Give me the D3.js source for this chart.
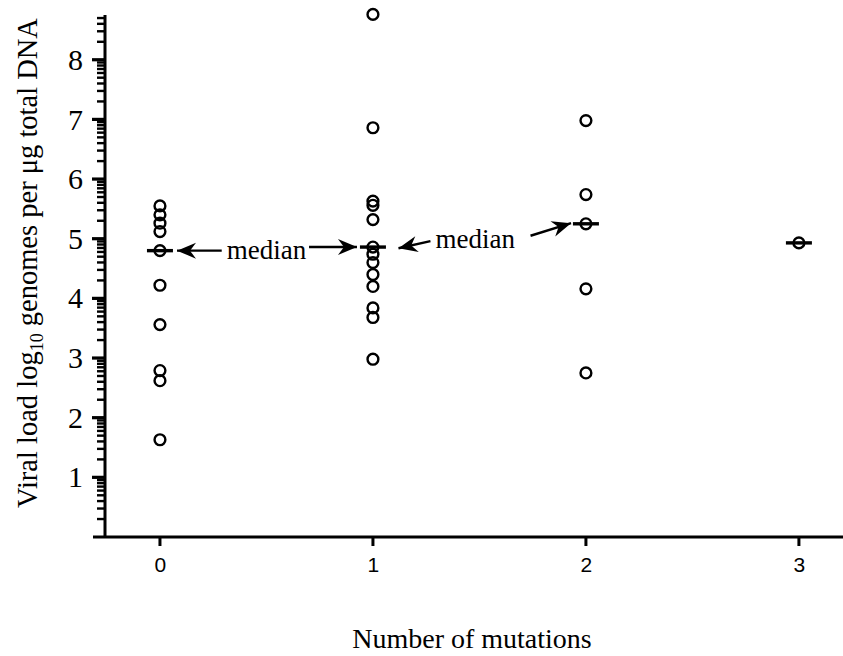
<!DOCTYPE html>
<html>
<head>
<meta charset="utf-8">
<script src="https://cdn.jsdelivr.net/npm/d3@7/dist/d3.min.js"></script>
<style>
  html, body { margin: 0; padding: 0; background: #fff; }
  svg { display: block; }
</style>
</head>
<body>
<svg id="chart" width="843" height="656"></svg>
<script>
// ---- data ----
const categories = [0, 1, 2, 3];
const xTickLabels = ["0", "1", "2", "3"];
const yTickLabels = ["1", "2", "3", "4", "5", "6", "7", "8"];
const group0 = [5.55, 5.40, 5.26, 5.12, 4.80, 4.22, 3.56, 2.79, 2.62, 1.63];
const group1 = [8.76, 6.86, 5.63, 5.56, 5.32, 4.86, 4.74, 4.60, 4.40, 4.20, 3.84, 3.68, 2.98];
const group2 = [6.98, 5.74, 5.25, 4.16, 2.75];
const group3 = [4.93];
const medians = [4.80, 4.86, 5.25, 4.93];
// annotations in data units: [tailX, tailY, tipX, tipY]
const arrows = [
  [0.29, 4.80, 0.08, 4.80],
  [0.70, 4.86, 0.925, 4.86],
  [1.27, 4.96, 1.12, 4.84],
  [1.74, 5.05, 1.93, 5.26]
];
const labels = [
  { text: "median", x: 0.50, y: 4.80 },
  { text: "median", x: 1.48, y: 4.99 }
];

const svg = d3.select("#chart");
const x = d3.scaleLinear().domain([-0.305, 3.207]).range([95, 843]);
const y = d3.scaleLinear().domain([0, 8.75]).range([537, 15]);

const serif = "'Liberation Serif', 'Times New Roman', serif";
const sans = "'Liberation Sans', Arial, sans-serif";

const yMajor = yTickLabels.map(Number);
const yMinor = [];
for (let n = 0; n <= 8; n++) {
  for (let k = 2; k <= 9; k++) {
    const v = n + Math.log10(k);
    if (v <= 8.75) yMinor.push(v);
  }
}

// y axis labels from d3 axis
const yAxis = svg.append("g")
  .attr("transform", "translate(106,0)")
  .call(d3.axisLeft(y).tickValues(yMajor).tickSize(12).tickPadding(11)
    .tickFormat((d, i) => yTickLabels[i]).tickSizeOuter(0));
yAxis.select(".domain").remove();
yAxis.selectAll(".tick line").remove();
yAxis.selectAll(".tick text")
  .attr("font-family", serif).attr("font-size", 30).attr("fill", "#000");

// y tick marks as filled rects positioned by the scale
const marks = svg.append("g").attr("fill", "#000");
marks.selectAll("rect.minor").data(yMinor).join("rect").attr("class", "minor")
  .attr("x", 97).attr("width", 9)
  .attr("y", d => y(d) - 1.2).attr("height", 2.4);
marks.selectAll("rect.major").data(yMajor).join("rect").attr("class", "major")
  .attr("x", 92).attr("width", 14)
  .attr("y", d => y(d) - 1.6).attr("height", 3.2);
marks.append("rect")
  .attr("x", 103.5).attr("width", 3)
  .attr("y", y(8.75)).attr("height", y(0) - y(8.75));

// x axis (labels via d3 axis, marks as rects)
const xAxis = svg.append("g")
  .attr("transform", "translate(0,537)")
  .call(d3.axisBottom(x).tickValues(categories).tickSize(8).tickPadding(12)
    .tickFormat((d, i) => xTickLabels[i]).tickSizeOuter(0));
xAxis.select(".domain").remove();
xAxis.selectAll(".tick line").remove();
xAxis.selectAll(".tick text")
  .attr("font-family", sans).attr("font-size", 21).attr("fill", "#000");
marks.append("rect").attr("x", 93).attr("width", 750).attr("y", 535.5).attr("height", 3);
marks.selectAll("rect.xt").data(categories).join("rect").attr("class", "xt")
  .attr("x", d => x(d) - 1.5).attr("width", 3)
  .attr("y", 537).attr("height", 9);

// axis titles
svg.append("text")
  .attr("x", x(1.465)).attr("y", 648)
  .attr("text-anchor", "middle")
  .attr("font-family", serif).attr("font-size", 28)
  .text("Number of mutations");

const yt = svg.append("text")
  .attr("transform", "translate(37,263) rotate(-90)")
  .attr("text-anchor", "middle")
  .attr("font-family", serif).attr("font-size", 28.5);
yt.append("tspan").text("Viral load log");
yt.append("tspan").attr("font-size", 18).attr("dy", 6).text("10");
yt.append("tspan").attr("dy", -6).text(" genomes per \u03bcg total DNA");

// points
const groups = [group0, group1, group2, group3];
const pts = [];
groups.forEach((g, i) => g.forEach(v => pts.push({ c: categories[i], v })));
svg.append("g").selectAll("circle").data(pts).join("circle")
  .attr("cx", d => x(d.c)).attr("cy", d => y(d.v)).attr("r", 5.4)
  .attr("fill", "none").attr("stroke", "#000").attr("stroke-width", 2.4);

// medians
svg.append("g").selectAll("line").data(medians).join("line")
  .attr("x1", (d, i) => x(categories[i]) - 13)
  .attr("x2", (d, i) => x(categories[i]) + 13)
  .attr("y1", d => y(d)).attr("y2", d => y(d))
  .attr("stroke", "#000").attr("stroke-width", 3.4);

// arrow marker
svg.append("defs").append("marker")
  .attr("id", "ah").attr("viewBox", "-20 -9 21 18")
  .attr("refX", 0).attr("refY", 0)
  .attr("markerWidth", 21).attr("markerHeight", 18)
  .attr("markerUnits", "userSpaceOnUse")
  .attr("orient", "auto")
  .append("path").attr("d", "M0,0 L-19,-8 L-13,0 L-19,8 Z").attr("fill", "#000");

svg.append("g").selectAll("line").data(arrows).join("line")
  .attr("x1", d => x(d[0])).attr("y1", d => y(d[1]))
  .attr("x2", d => x(d[2])).attr("y2", d => y(d[3]))
  .attr("stroke", "#000").attr("stroke-width", 2.4)
  .attr("marker-end", "url(#ah)");

svg.append("g").selectAll("text").data(labels).join("text")
  .attr("x", d => x(d.x)).attr("y", d => y(d.y))
  .attr("dy", "0.32em")
  .attr("text-anchor", "middle")
  .attr("font-family", serif).attr("font-size", 27)
  .text(d => d.text);
</script>
</body>
</html>
